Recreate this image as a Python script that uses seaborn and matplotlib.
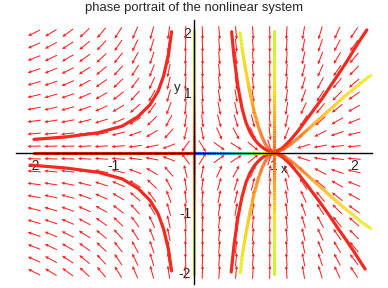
import numpy as np
import matplotlib
matplotlib.use("Agg")
import matplotlib.pyplot as plt
import seaborn as sns
import pandas as pd
from matplotlib.collections import LineCollection
from matplotlib.colors import LinearSegmentedColormap
from matplotlib.ticker import MultipleLocator, FixedLocator

# ---------------- data ----------------
title = "phase portrait of the nonlinear system"
x_major = [-2, -1, 1, 2]
y_major = [-2, -1, 1, 2]
x_label = "x"
y_label = "y"

# left branches (red)
tl_x = [-2.0, -1.6, -1.2, -0.9, -0.7, -0.55, -0.45, -0.38, -0.32, -0.28]
tl_y = [0.22, 0.26, 0.33, 0.44, 0.60, 0.80, 1.02, 1.28, 1.64, 2.02]
bl_x = [-2.05, -1.6, -1.2, -0.9, -0.7, -0.55, -0.45, -0.38, -0.32, -0.28]
bl_y = [-0.21, -0.26, -0.33, -0.44, -0.60, -0.80, -1.02, -1.28, -1.62, -1.98]

# middle branches
mr_top_x = [0.47, 0.50, 0.55, 0.60, 0.65, 0.70, 0.75, 0.80, 0.85, 0.90, 0.95, 1.0]
mr_top_y = [2.02, 1.60, 1.10, 0.74, 0.50, 0.34, 0.23, 0.15, 0.09, 0.045, 0.015, 0.0]
mr_bot_x = [0.465, 0.50, 0.55, 0.60, 0.65, 0.70, 0.75, 0.80, 0.85, 0.90, 0.95, 1.0]
mr_bot_y = [-2.0, -1.55, -1.08, -0.74, -0.50, -0.34, -0.23, -0.15, -0.09, -0.045, -0.015, 0.0]
my_top_x = [1.0, 0.95, 0.90, 0.85, 0.80, 0.75, 0.70, 0.65, 0.60, 0.575]
my_top_y = [0.0, 0.04, 0.12, 0.26, 0.45, 0.70, 1.00, 1.35, 1.75, 2.02]
my_bot_x = [1.0, 0.95, 0.90, 0.85, 0.80, 0.75, 0.70, 0.65, 0.60, 0.58]
my_bot_y = [0.0, -0.04, -0.12, -0.26, -0.45, -0.70, -1.00, -1.35, -1.75, -2.03]

# right branches
rr_top_x = [1.0, 1.1, 1.2, 1.3, 1.4, 1.5, 1.6, 1.7, 1.8, 1.9, 2.0, 2.1, 2.16]
rr_top_y = [0.0, 0.07, 0.20, 0.36, 0.54, 0.72, 0.90, 1.10, 1.30, 1.50, 1.72, 1.93, 2.05]
rr_bot_x = [1.0, 1.1, 1.2, 1.3, 1.4, 1.5, 1.6, 1.7, 1.8, 1.9, 2.0, 2.1, 2.14]
rr_bot_y = [0.0, -0.07, -0.19, -0.35, -0.52, -0.70, -0.88, -1.07, -1.27, -1.46, -1.66, -1.87, -1.95]
ry_top_x = [1.0, 1.1, 1.2, 1.3, 1.4, 1.5, 1.6, 1.7, 1.8, 1.9, 2.0, 2.1, 2.22]
ry_top_y = [0.0, 0.04, 0.13, 0.24, 0.36, 0.48, 0.60, 0.72, 0.84, 0.96, 1.07, 1.18, 1.30]
ry_bot_x = [1.0, 1.1, 1.2, 1.3, 1.4, 1.5, 1.6, 1.7, 1.8, 1.9, 2.0, 2.1, 2.22]
ry_bot_y = [0.0, -0.04, -0.13, -0.24, -0.36, -0.48, -0.60, -0.72, -0.84, -0.95, -1.06, -1.17, -1.28]

# invariant lines
v0_y = [0.0, 0.5, 1.0, 1.5, 2.05]          # x = 0 line (both halves)
v1_y = [0.0, 0.5, 1.0, 1.5, 2.05]          # x = 1 line (both halves)
h01_x = [0.0, 0.25, 0.5, 0.75, 1.0]        # y = 0 between 0 and 1
hneg_x = [-2.0, -1.0, 0.0]                 # y = 0 left of 0

# vector field of the system (direction field)
def fx(x, y):
    return x * (1 - x)

def fy(x, y):
    return -2 * y

grid_n = 20
grid_lo, grid_hi = -2.0, 2.0

# ---------------- style ----------------
sns.set_style("white")
plt.rcParams["font.family"] = ["Liberation Sans", "DejaVu Sans"]
plt.rcParams["axes.unicode_minus"] = False

RED = "#f42a1e"
ARROW = "#ff1e1e"

fig = plt.figure(figsize=(3.88, 2.88), dpi=100)
XLIM = (-2.25, 2.25)
YLIM = (-2.25, 2.25)
ax = fig.add_axes([14 / 388, 1.0 / 288, 360 / 388, 269 / 288])
ax.set_xlim(*XLIM)
ax.set_ylim(*YLIM)

# direction field
gx = np.linspace(grid_lo, grid_hi, grid_n)
gy = np.linspace(grid_lo, grid_hi, grid_n)
GX, GY = np.meshgrid(gx, gy)
U = fx(GX, GY)
V = fy(GX, GY)
pxu, pyu = 80.0, 59.75
PU, PV = U * pxu, V * pyu
N = np.hypot(PU, PV)
N[N == 0] = 1
L = 13.5
Ud = L * PU / N / pxu
Vd = L * PV / N / pyu
ax.quiver(GX, GY, Ud, Vd, angles="xy", scale_units="xy", scale=1,
          pivot="middle", color=ARROW, width=0.0028, headwidth=3.4,
          headlength=3.8, headaxislength=3.3, zorder=1)


def grad_line(xs, ys, stops, lw, sub=12):
    xs = np.asarray(xs, float)
    ys = np.asarray(ys, float)
    d = np.hypot(np.diff(xs) * pxu, np.diff(ys) * pyu)
    s = np.concatenate([[0], np.cumsum(d)])
    s = s / s[-1]
    px, py, pt = [], [], []
    for i in range(len(xs) - 1):
        for k in range(sub):
            f = k / sub
            px.append(xs[i] + f * (xs[i + 1] - xs[i]))
            py.append(ys[i] + f * (ys[i + 1] - ys[i]))
            pt.append(s[i] + f * (s[i + 1] - s[i]))
    px.append(xs[-1]); py.append(ys[-1]); pt.append(1.0)
    pts = np.column_stack([px, py]).reshape(-1, 1, 2)
    segs = np.concatenate([pts[:-1], pts[1:]], axis=1)
    cmap = LinearSegmentedColormap.from_list("g", stops)
    tm = (np.array(pt[:-1]) + np.array(pt[1:])) / 2
    lc = LineCollection(segs, colors=cmap(tm), linewidths=lw, capstyle="butt", zorder=2)
    ax.add_collection(lc)


LW = 2.3
# red curves via seaborn
red_curves = [(tl_x, tl_y), (bl_x, bl_y), (mr_top_x, mr_top_y), (mr_bot_x, mr_bot_y),
              (rr_top_x, rr_top_y), (rr_bot_x, rr_bot_y), (hneg_x, [0.0] * len(hneg_x))]
for cx, cy in red_curves:
    df = pd.DataFrame({"x": cx, "y": cy})
    sns.lineplot(data=df, x="x", y="y", sort=False, estimator=None, color=RED,
                 linewidth=LW, ax=ax, zorder=2)

yellow_stops = [(0.0, "#ff3a12"), (0.3, "#ff8c14"), (0.6, "#ffc814"), (1.0, "#e4f21c")]
grad_line(my_top_x, my_top_y, yellow_stops, LW)
grad_line(my_bot_x, my_bot_y, yellow_stops, LW)
grad_line(ry_top_x, ry_top_y, yellow_stops, LW)
grad_line(ry_bot_x, ry_bot_y, yellow_stops, LW)

vert_stops = [(0.0, "#ff5a12"), (0.25, "#ff9a14"), (0.5, "#ffd814"), (0.7, "#d8f020"), (1.0, "#c4f028")]
for vx, vy in [(0.0, v0_y), (1.0, v1_y)]:
    grad_line([vx] * len(vy), vy, vert_stops, LW)
    grad_line([vx] * len(vy), [-v for v in vy], vert_stops, LW)

h_stops = [(0.0, "#1830ff"), (0.35, "#18a0ff"), (0.65, "#30f078"), (0.88, "#d8f020"), (1.0, "#ff3010")]
grad_line(h01_x, [0.0] * len(h01_x), h_stops, LW)

# axes through the origin
for side in ["top", "right"]:
    ax.spines[side].set_visible(False)
ax.spines["left"].set_position(("data", 0))
ax.spines["bottom"].set_position(("data", 0))
for side in ["left", "bottom"]:
    ax.spines[side].set_linewidth(1.0)
    ax.spines[side].set_color("black")
    ax.spines[side].set_zorder(3)
ax.spines["bottom"].set_bounds(-2.23, 2.23)
ax.spines["left"].set_bounds(-2.2, 2.22)

ax.xaxis.set_major_locator(FixedLocator(x_major))
ax.yaxis.set_major_locator(FixedLocator(y_major))
ax.xaxis.set_minor_locator(MultipleLocator(0.2))
ax.yaxis.set_minor_locator(MultipleLocator(0.2))
ax.set_xticklabels([str(v) for v in x_major])
ax.set_yticklabels([str(v) for v in y_major])
ax.tick_params(axis="x", which="major", direction="out", length=4.5, width=0.8, pad=0.5, labelsize=10)
ax.tick_params(axis="x", which="minor", direction="out", length=2.5, width=0.8)
ax.tick_params(axis="y", which="major", direction="in", length=4.5, width=0.8, pad=2, labelsize=10)
ax.tick_params(axis="y", which="minor", direction="in", length=2.5, width=0.8)
ax.set_xlabel("")
ax.set_ylabel("")
ax.text(1.08, -0.3, x_label, fontsize=9, ha="left", va="center")
ax.text(-0.17, 1.08, y_label, fontsize=9.5, ha="right", va="center")

fig.text(194 / 388, 1 - 8 / 288, title, ha="center", va="center", fontsize=9.4)

fig.savefig("out.png", dpi=100)
